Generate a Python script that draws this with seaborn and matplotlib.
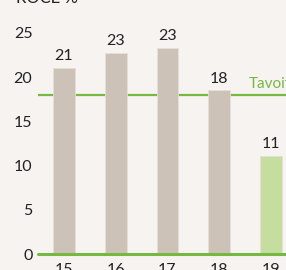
import seaborn as sns
import matplotlib.pyplot as plt
import pandas as pd

years = ['15', '16', '17', '18', '19']
roce = [21.0, 22.7, 23.3, 18.5, 11.1]
value_labels = ['21', '23', '23', '18', '11']
target = 18
bar_colors = ['#cdc2b7', '#cdc2b7', '#cdc2b7', '#cdc2b7', '#c5dea0']

bg = '#f6f3f0'
green = '#77b843'

width, height, my_dpi = 286, 270, 100
sns.set_style('white')
plt.rcParams['font.family'] = ['Lato', 'DejaVu Sans']

df = pd.DataFrame({'year': years, 'roce': roce})

fig = plt.figure(figsize=(width / my_dpi, height / my_dpi), dpi=my_dpi, facecolor=bg)
ax = fig.add_axes([38 / width, 16 / height, 1 - 38 / width, 1 - 16 / height])
ax.set_facecolor(bg)

sns.barplot(data=df, x='year', y='roce', hue='year', palette=bar_colors,
            legend=False, width=0.42, saturation=1, ax=ax, edgecolor='#e6dfd8', linewidth=0.6)

ax.set_xlim(-0.5, 4.29)
ax.set_ylim(0, 254 / 8.84)
ax.set_yticks([0, 5, 10, 15, 20, 25])
ax.tick_params(axis='both', length=0, labelsize=11.5, colors='#222222')
ax.tick_params(axis='x', pad=6.5)
ax.tick_params(axis='y', pad=4)
ax.set_xlabel('')
ax.set_ylabel('')
for s in ax.spines.values():
    s.set_visible(False)

ax.axhline(0, color=green, lw=2.2, clip_on=False, zorder=5)
ax.axhline(target, color=green, lw=1.6, zorder=0.5)
ax.text(3.58, target + 0.4, 'Tavoite', color=green, fontsize=11, va='bottom', ha='left', clip_on=False)

for i, (v, lab) in enumerate(zip(roce, value_labels)):
    ax.text(i, v + 0.55, lab, ha='center', va='bottom', fontsize=11.5, color='#222222')

fig.text(16 / width, 1 - 3 / height, 'ROCE %', fontsize=12, va='baseline', ha='left', color='#222222')

plt.savefig('out.png', dpi=my_dpi, facecolor=bg)
